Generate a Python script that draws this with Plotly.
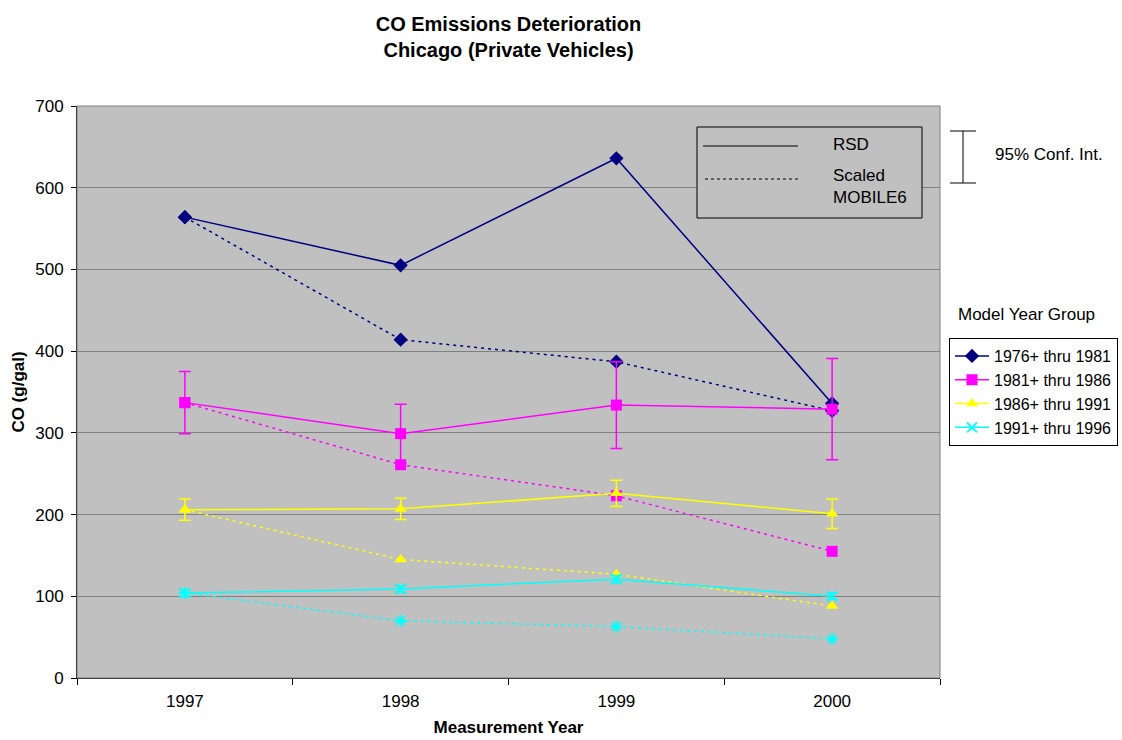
import plotly.graph_objects as go

# Measurement years (category axis)
years = ["1997", "1998", "1999", "2000"]

# Model year groups
groups = ["1976+ thru 1981", "1981+ thru 1986", "1986+ thru 1991", "1991+ thru 1996"]
colors = ["#000080", "#FF00FF", "#FFFF00", "#00FFFF"]

# RSD measured CO (g/gal) per group
rsd_1976 = [564, 505, 636, 336]
rsd_1981 = [337, 299, 334, 329]
rsd_1986 = [206, 207, 226, 201]
rsd_1991 = [104, 109, 121, 100]

# 95% confidence half-widths for RSD values
ci_1976 = [0, 0, 0, 0]
ci_1981 = [38, 36, 53, 62]
ci_1986 = [13, 13, 16, 18]
ci_1991 = [4, 4, 4, 4]

# Scaled MOBILE6 predictions per group
mob_1976 = [564, 414, 387, 327]
mob_1981 = [337, 261, 223, 155]
mob_1986 = [206, 145, 127, 88]
mob_1991 = [104, 70, 63, 48]

rsd = [rsd_1976, rsd_1981, rsd_1986, rsd_1991]
ci = [ci_1976, ci_1981, ci_1986, ci_1991]
mob = [mob_1976, mob_1981, mob_1986, mob_1991]
rsd_symbols = ["diamond", "square", "triangle-up", "x-thin"]
mob_symbols = ["diamond", "square", "triangle-up", "asterisk"]

FONT = "Liberation Sans, Arial, sans-serif"
W, H = 1122, 740
L, R, T, B = 77, 940, 106, 678


def px(x):
    return (x - L) / (R - L)


def py(y):
    return (B - y) / (B - T)


fig = go.Figure()

for i in range(4):
    thin = mob_symbols[i] == "asterisk"
    fig.add_trace(go.Scatter(
        x=years, y=mob[i], mode="lines+markers",
        line=dict(color=colors[i], width=1.5, dash="3px,4px"),
        marker=dict(symbol=mob_symbols[i], size=11 if not thin else 10,
                    color=colors[i],
                    line=dict(color=colors[i], width=1.8 if thin else 0)),
        showlegend=False, hoverinfo="x+y",
    ))

for i in range(4):
    thin = rsd_symbols[i] == "x-thin"
    fig.add_trace(go.Scatter(
        x=years, y=rsd[i], mode="lines+markers", name=groups[i],
        line=dict(color=colors[i], width=1.5),
        marker=dict(symbol=rsd_symbols[i], size=11 if not thin else 10,
                    color=colors[i],
                    line=dict(color=colors[i], width=1.8 if thin else 0)),
        error_y=dict(type="data", array=ci[i], visible=True,
                     color=colors[i], thickness=1.5, width=6),
    ))

shapes = [
    # plot area outline
    dict(type="rect", xref="paper", yref="paper", x0=0, x1=1, y0=0, y1=1,
         line=dict(color="#808080", width=1), layer="above"),
    # line-style key box
    dict(type="rect", xref="paper", yref="paper", x0=px(697), x1=px(922),
         y0=py(218), y1=py(127), line=dict(color="black", width=1),
         fillcolor="#C0C0C0", layer="above"),
    dict(type="line", xref="paper", yref="paper", x0=px(703), x1=px(798),
         y0=py(146), y1=py(146), line=dict(color="black", width=1), layer="above"),
    dict(type="line", xref="paper", yref="paper", x0=px(705), x1=px(800),
         y0=py(179), y1=py(179), line=dict(color="black", width=1, dash="3px,3px"),
         layer="above"),
    # confidence interval symbol
    dict(type="line", xref="paper", yref="paper", x0=px(963), x1=px(963),
         y0=py(183), y1=py(131), line=dict(color="black", width=1)),
    dict(type="line", xref="paper", yref="paper", x0=px(950), x1=px(976),
         y0=py(131), y1=py(131), line=dict(color="black", width=1)),
    dict(type="line", xref="paper", yref="paper", x0=px(950), x1=px(976),
         y0=py(183), y1=py(183), line=dict(color="black", width=1)),
]

annotations = [
    dict(text="RSD", xref="paper", yref="paper", x=px(831), y=py(144),
         xanchor="left", yanchor="middle", showarrow=False,
         font=dict(family=FONT, size=17, color="black")),
    dict(text="Scaled<br>MOBILE6", xref="paper", yref="paper", x=px(831), y=py(187),
         xanchor="left", yanchor="middle", showarrow=False, align="left",
         font=dict(family=FONT, size=17, color="black")),
    dict(text="95% Conf. Int.", xref="paper", yref="paper", x=px(993), y=py(154),
         xanchor="left", yanchor="middle", showarrow=False,
         font=dict(family=FONT, size=17, color="black")),
    dict(text="Model Year Group", xref="paper", yref="paper", x=px(1026), y=py(314),
         xanchor="center", yanchor="middle", showarrow=False,
         font=dict(family=FONT, size=17, color="black")),
]

fig.update_layout(
    width=W, height=H,
    margin=dict(l=L, r=W - R, t=T, b=H - B, autoexpand=False),
    paper_bgcolor="white", plot_bgcolor="#C0C0C0",
    font=dict(family=FONT, size=17, color="black"),
    title=dict(text="<b>CO Emissions Deterioration<br>Chicago (Private Vehicles)</b>",
               x=0.5, xref="paper", y=1 - 31 / H, yanchor="middle",
               font=dict(family=FONT, size=20, color="black")),
    xaxis=dict(type="category", range=[-0.5, 3.5], tickson="boundaries",
               ticks="outside", ticklen=6, tickcolor="black",
               showline=True, linecolor="black", linewidth=1,
               showgrid=False, zeroline=False, ticklabelstandoff=8,
               tickfont=dict(family=FONT, size=17),
               title=dict(text="<b>Measurement Year</b>", standoff=10,
                          font=dict(family=FONT, size=17))),
    yaxis=dict(range=[0, 700], dtick=100, ticks="outside", ticklen=5,
               tickcolor="black", showline=True, linecolor="black", linewidth=1,
               showgrid=True, gridcolor="#808080", gridwidth=1, zeroline=False,
               ticklabelstandoff=4,
               tickfont=dict(family=FONT, size=17),
               title=dict(text="<b>CO (g/gal)</b>", standoff=6,
                          font=dict(family=FONT, size=17))),
    legend=dict(x=px(949), y=py(338), xanchor="left", yanchor="top",
                bgcolor="white", bordercolor="black", borderwidth=1,
                font=dict(family=FONT, size=16), itemwidth=34,
                tracegroupgap=0),
    shapes=shapes, annotations=annotations,
)

fig.write_html("out.html")
